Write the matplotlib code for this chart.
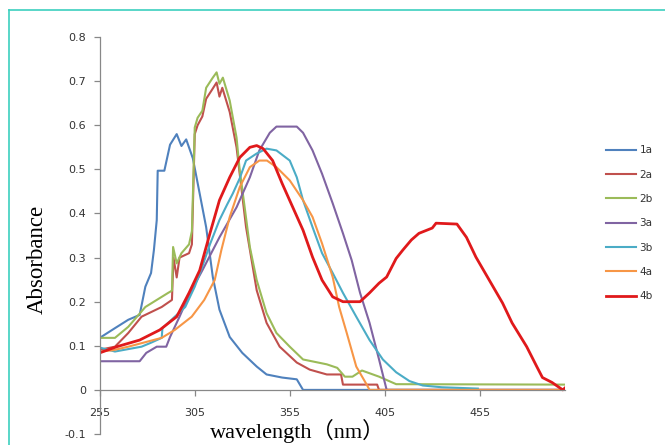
import matplotlib
matplotlib.use("Agg")
import matplotlib.pyplot as plt
from matplotlib.lines import Line2D

x_1a = [255, 263, 270, 276, 279, 282, 283.5, 285, 285.5, 289, 292, 295.5, 298, 300.5, 304, 307.6, 311, 314.5, 318, 323.4, 330, 337.6, 342.8, 351, 358.7, 362, 500]
y_1a = [0.118, 0.14, 0.159, 0.17, 0.234, 0.265, 0.317, 0.385, 0.497, 0.497, 0.556, 0.58, 0.553, 0.568, 0.525, 0.445, 0.369, 0.256, 0.182, 0.12, 0.084, 0.053, 0.035, 0.028, 0.024, 0.0, 0.0]

x_2a = [255, 263, 270, 277, 287.6, 293, 293.8, 295.5, 297, 302, 303.5, 305, 306.5, 309, 311, 314, 316.5, 318, 319.5, 323.4, 327, 332, 337.6, 342.8, 349.7, 358.7, 365.5, 374.5, 382, 383, 401, 402, 500]
y_2a = [0.091, 0.098, 0.129, 0.166, 0.188, 0.204, 0.3, 0.255, 0.3, 0.31, 0.33, 0.58, 0.6, 0.62, 0.66, 0.68, 0.697, 0.665, 0.685, 0.63, 0.55, 0.369, 0.226, 0.152, 0.098, 0.062, 0.046, 0.035, 0.035, 0.012, 0.012, 0.0, 0.0]

x_2b = [255, 263, 270, 279, 291, 293, 293.6, 295.5, 298, 302, 303.5, 305, 306.5, 309, 311, 314.5, 316.5, 318, 319.8, 323.4, 327, 328.7, 331, 334, 337.6, 342.8, 348, 355, 362, 374.5, 380, 384, 388, 393, 402, 411, 500]
y_2b = [0.118, 0.118, 0.143, 0.188, 0.22, 0.225, 0.324, 0.287, 0.31, 0.33, 0.36, 0.595, 0.617, 0.633, 0.685, 0.708, 0.72, 0.694, 0.708, 0.656, 0.572, 0.497, 0.423, 0.324, 0.249, 0.174, 0.129, 0.098, 0.069, 0.058, 0.05, 0.03, 0.03, 0.044, 0.03, 0.013, 0.012]

x_3a = [255, 276, 279.5, 285, 290, 292, 297, 302, 309, 318, 327, 334, 339, 344.5, 348, 358.7, 362, 367, 372, 377.6, 383, 387.6, 392, 397, 402, 406, 500]
y_3a = [0.065, 0.065, 0.084, 0.098, 0.098, 0.12, 0.166, 0.215, 0.271, 0.346, 0.414, 0.482, 0.543, 0.583, 0.597, 0.597, 0.583, 0.543, 0.49, 0.423, 0.355, 0.294, 0.22, 0.152, 0.069, 0.0, 0.0]

x_3b = [255, 263, 277, 282, 287.6, 288, 294.5, 300, 305, 309, 313, 318, 322, 325, 328.7, 332, 337.6, 342.8, 348, 355, 358.7, 362, 367, 372, 377.6, 383, 390, 397, 404, 411, 418, 425, 435, 454]
y_3b = [0.096, 0.087, 0.098, 0.107, 0.118, 0.14, 0.166, 0.188, 0.234, 0.28, 0.33, 0.385, 0.42, 0.445, 0.48, 0.52, 0.536, 0.547, 0.543, 0.52, 0.482, 0.43, 0.369, 0.31, 0.265, 0.22, 0.166, 0.113, 0.069, 0.04, 0.02, 0.01, 0.006, 0.003]

x_4a = [255, 262, 270, 287.6, 294.5, 303.4, 310, 315.5, 319, 323.4, 328.7, 334, 339, 343, 348, 355, 362, 367, 372, 377.6, 381, 385, 390, 395.5, 397, 500]
y_4a = [0.087, 0.09, 0.098, 0.118, 0.136, 0.166, 0.204, 0.249, 0.317, 0.392, 0.46, 0.505, 0.52, 0.52, 0.505, 0.475, 0.43, 0.392, 0.332, 0.256, 0.188, 0.129, 0.053, 0.012, 0.0, 0.0]

x_4b = [255, 264, 276, 286.6, 295.5, 302, 307.6, 313, 318, 323.4, 328.7, 334, 337.6, 341, 346, 351, 356.6, 362, 367, 372, 377.6, 383, 392, 397, 402, 406, 411, 414.5, 419, 423, 430, 432, 443, 448, 453, 460, 467, 472, 479.7, 485, 488, 493, 498.7, 500]
y_4b = [0.084, 0.098, 0.113, 0.136, 0.166, 0.22, 0.271, 0.355, 0.43, 0.482, 0.527, 0.55, 0.554, 0.547, 0.52, 0.468, 0.414, 0.362, 0.301, 0.249, 0.211, 0.2, 0.2, 0.22, 0.242, 0.256, 0.298, 0.317, 0.34, 0.355, 0.367, 0.378, 0.376, 0.346, 0.301, 0.249, 0.197, 0.152, 0.098, 0.053, 0.028, 0.017, 0.0, 0.005]

labels = ["1a", "2a", "2b", "3a", "3b", "4a", "4b"]
colors = ["#4F81BD", "#C0504D", "#9BBB59", "#8064A2", "#4BACC6", "#F79646", "#E0191B"]
xticks = [255, 305, 355, 405, 455]
yticks = [-0.1, 0, 0.1, 0.2, 0.3, 0.4, 0.5, 0.6, 0.7, 0.8]
ytick_labels = ["-0.1", "0", "0.1", "0.2", "0.3", "0.4", "0.5", "0.6", "0.7", "0.8"]

series = [(x_1a, y_1a), (x_2a, y_2a), (x_2b, y_2b), (x_3a, y_3a),
          (x_3b, y_3b), (x_4a, y_4a), (x_4b, y_4b)]

fig = plt.figure(figsize=(6.65, 4.45), dpi=100)
ax = fig.add_axes([0.150, 0.0247, 0.700, 0.892])

for (xs, ys), lab, c in zip(series, labels, colors):
    lw = 2.0 if lab == "4b" else 1.5
    ax.plot(xs, ys, color=c, lw=lw, label=lab, solid_joinstyle="round")

ax.set_xlim(255, 500)
ax.set_ylim(-0.1, 0.8)
ax.spines["top"].set_visible(False)
ax.spines["right"].set_visible(False)
ax.spines["bottom"].set_position(("data", 0))
for s in ("left", "bottom"):
    ax.spines[s].set_color("#888888")
    ax.spines[s].set_linewidth(0.9)

ax.set_xticks(xticks)
ax.set_xticklabels([str(t) for t in xticks])
ax.set_yticks(yticks)
ax.set_yticklabels(ytick_labels)
ax.tick_params(axis="both", colors="#888888", labelcolor="#333333",
               labelsize=8, length=4, width=0.9)
ax.tick_params(axis="x", pad=9)
ax.tick_params(axis="y", pad=6)

leg = ax.legend(loc="upper left", bbox_to_anchor=(0.905, 0.683),
                bbox_transform=fig.transFigure, frameon=False,
                fontsize=7.5, handlelength=2.9, handletextpad=0.3,
                labelspacing=1.38, borderaxespad=0)
for t in leg.get_texts():
    t.set_color("#333333")

fig.text(0.056, 0.416, "Absorbance", rotation=90, ha="center", va="center",
         family=["Liberation Serif", "Noto Sans CJK SC"], fontsize=16.5)
fig.text(0.447, 0.016, "wavelength（nm）", ha="center", va="baseline",
         family=["Liberation Serif", "Noto Sans CJK SC"], fontsize=16)

border = "#3CCFBF"
fig.add_artist(Line2D([9 / 665, 1.0], [1 - 10 / 445, 1 - 10 / 445],
                      transform=fig.transFigure, color=border, lw=1.2))
fig.add_artist(Line2D([9 / 665, 9 / 665], [0.0, 1 - 10 / 445],
                      transform=fig.transFigure, color=border, lw=1.2))

fig.savefig("out.png", dpi=100)
